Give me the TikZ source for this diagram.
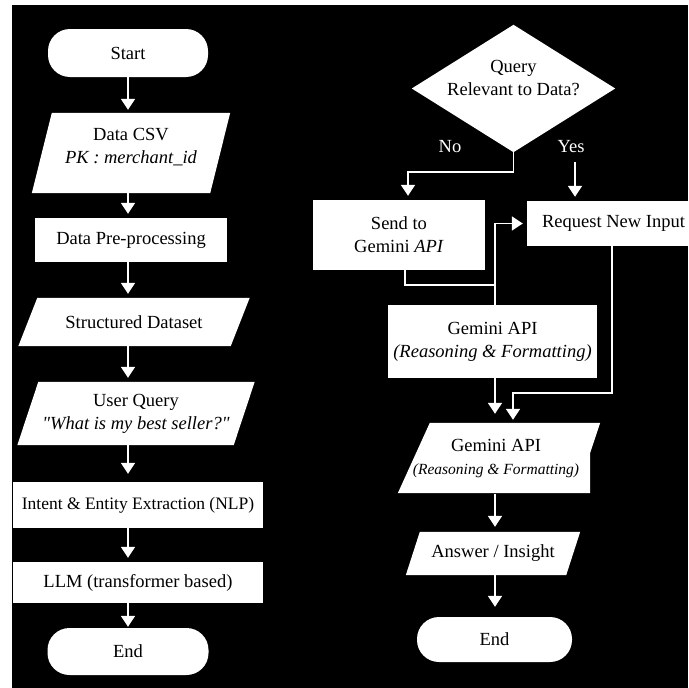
\documentclass[tikz,border=0pt]{standalone}
\usepackage{fontspec}
\setmainfont{Liberation Serif}[Ligatures=TeXOff]
\usetikzlibrary{arrows.meta,calc}
\pgfdeclarelayer{bg}
\pgfdeclarelayer{shp}
\pgfsetlayers{bg,shp,main}
\newcommand\lift[2]{\raisebox{#1}[\height][\depth]{#2}}
\newcommand\parafill[2]{%
  \begin{pgfonlayer}{shp}
    \fill[white] ([xshift=#2/2]#1.north west) -- ([xshift=#2/2]#1.north east)
      -- ([xshift=-#2/2]#1.south east) -- ([xshift=-#2/2]#1.south west) -- cycle;
  \end{pgfonlayer}}
\tikzset{
  txt/.style={font=\fontsize{18.5}{23}\selectfont, text=black, align=center, inner sep=0pt},
  boxr/.style={txt, fill=white},
  stad/.style={txt, fill=white, rounded corners=22pt},
  lab/.style={txt, text=white},
  flow/.style={draw=white, line width=1.8pt},
  arr/.style={flow, -{Triangle[width=14pt,length=11pt]}, shorten >=4pt},
}
\begin{document}
\begin{tikzpicture}[x=1pt,y=-1pt]
\useasboundingbox (0,0) rectangle (688,688);
\begin{pgfonlayer}{bg}
  \fill[white] (0,0) rectangle (688,688);
  \fill[black] (12,5) rectangle (688,688);
\end{pgfonlayer}

% ---------- left column ----------
\node[stad, minimum width=160pt, minimum height=48pt] (start) at (128,53) {Start};
\node[txt, minimum width=178pt, minimum height=80pt] (csv) at (131,153)
  {\lift{6pt}{\begin{tabular}{@{}c@{}}Data CSV\\\textit{PK : merchant\_id}\end{tabular}}};
\parafill{csv}{20}
\node[boxr, minimum width=192pt, minimum height=44pt] (pre) at (131,240) {Data Pre-processing};
\node[txt, minimum width=212pt, minimum height=48pt] (struct) at (134,322) {Structured Dataset};
\parafill{struct}{19}
\node[txt, minimum width=216pt, minimum height=63pt] (query) at (136,413.5)
  {User Query\\\textit{"What is my best seller?"}};
\parafill{query}{21}
\node[boxr, minimum width=250pt, minimum height=46pt, font=\fontsize{17.5}{23}\selectfont] (intent) at (138,505) {Intent \& Entity Extraction (NLP)};
\node[boxr, minimum width=250pt, minimum height=41pt] (llm) at (138,582.5) {LLM (transformer based)};
\node[stad, minimum width=161pt, minimum height=47pt] (end1) at (128,651.5) {End};

\draw[arr, shorten >=3pt] (start.south) -- (start.south |- csv.north);
\draw[arr] (start.south |- csv.south) -- (start.south |- pre.north);
\draw[arr] (start.south |- pre.south) -- (start.south |- struct.north);
\draw[arr] (start.south |- struct.south) -- (start.south |- query.north);
\draw[arr, shorten >=8pt] (start.south |- query.south) -- (start.south |- intent.north);
\draw[arr] (start.south |- intent.south) -- (start.south |- llm.north);
\draw[arr, shorten >=1pt] (start.south |- llm.south) -- (start.south |- end1.north);

% ---------- right column ----------
\node[txt, minimum width=203pt, minimum height=127pt] (dia) at (513.5,88.5)
  {\lift{9pt}{\begin{tabular}{@{}c@{}}Query\\Relevant to Data?\end{tabular}}};
\begin{pgfonlayer}{shp}
  \fill[white] (dia.north) -- (dia.east) -- (dia.south) -- (dia.west) -- cycle;
\end{pgfonlayer}
\node[lab] (no) at (450,147) {No};
\node[lab] (yes) at (571,147) {Yes};
\node[boxr, minimum width=172pt, minimum height=70pt] (send) at (399,235) {Send to\\Gemini \textit{API}};
\node[boxr, minimum width=173pt, minimum height=45pt] (req) at (613.5,223.5) {Request New Input};
\node[boxr, minimum width=209pt, minimum height=73pt] (gem1) at (492.5,341.5)
  {Gemini API\\\textit{(Reasoning \& Formatting)}};
\node[txt, minimum width=192pt, minimum height=70pt] (gem2) at (496,459)
  {Gemini API\\{\fontsize{15.5}{20}\selectfont\itshape (Reasoning \& Formatting)}};
\begin{pgfonlayer}{shp}
  \fill[white] ([xshift=30pt,yshift=1pt]gem2.north west) -- ([xshift=8pt,yshift=1pt]gem2.north east)
    -- ([xshift=-2pt,yshift=-29pt]gem2.north east) -- ([xshift=-2pt,yshift=1pt]gem2.south east)
    -- ([xshift=-2pt,yshift=1pt]gem2.south west) -- cycle;
\end{pgfonlayer}
\node[txt, minimum width=160pt, minimum height=43pt] (ans) at (493,553.5) {Answer / Insight};
\parafill{ans}{14}
\node[stad, minimum width=155pt, minimum height=45pt] (end2) at (494.5,639.5) {End};

\coordinate (nobend) at (513.5,172);
\draw[arr] (dia.south) -- (nobend) -| ([xshift=9pt]send.north);
\coordinate (yes0) at (575,162);
\draw[arr] (yes0) -- (yes0 |- req.north);
\coordinate (sj) at (495,285);
\draw[flow] ([xshift=6pt]send.south) |- (sj);
\draw[arr] ([xshift=2.5pt]gem1.north) |- (req.west);
\coordinate (rb) at (513,393);
\draw[arr, shorten >=4pt] ([xshift=-1.5pt]req.south) |- (rb) -- (rb |- gem2.north);
\draw[arr, shorten >=10pt] ([xshift=2.5pt]gem1.south) -- ([xshift=2.5pt]gem1.south |- gem2.north);
\draw[arr, shorten >=5pt] ([xshift=-1pt]gem2.south) -- ([xshift=-1pt]gem2.south |- ans.north);
\draw[arr, shorten >=10pt] ([xshift=-1pt]gem2.south |- ans.south) -- ([xshift=-1pt]gem2.south |- end2.north);
\end{tikzpicture}
\end{document}
